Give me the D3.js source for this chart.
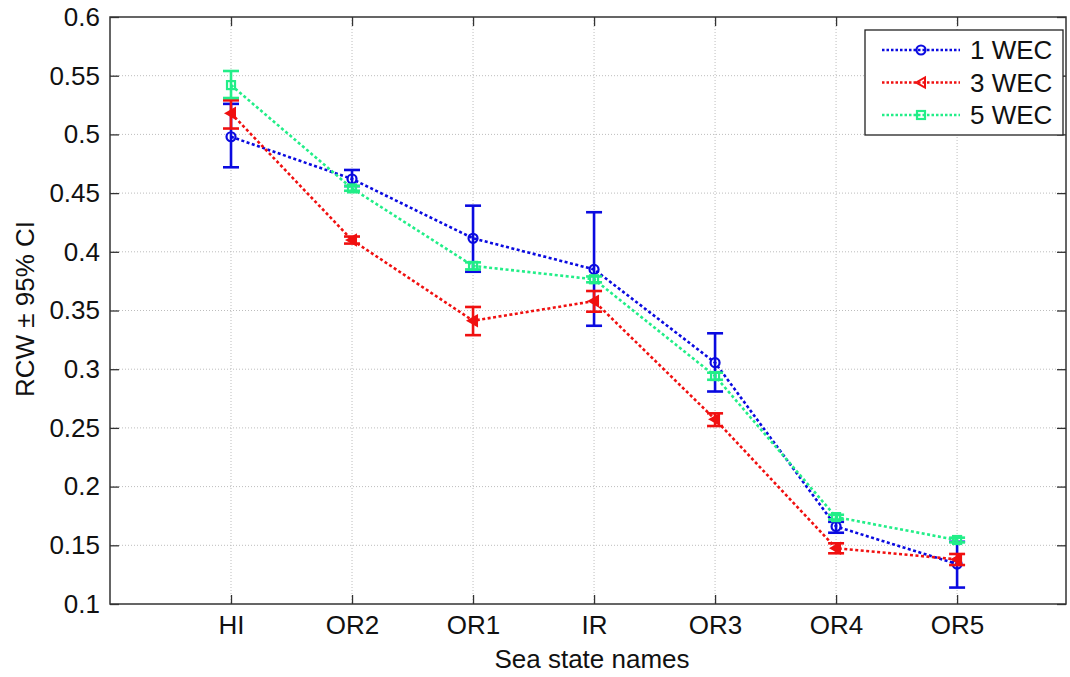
<!DOCTYPE html>
<html><head><meta charset="utf-8">
<script src="https://cdn.jsdelivr.net/npm/d3@7"></script>
<style>body{margin:0;background:#fff}svg{display:block}text{font-family:"Liberation Sans",Arial,sans-serif;fill:#111}</style>
</head><body><svg id="c" width="1070" height="677"></svg>
<script>
const categories = ["HI","OR2","OR1","IR","OR3","OR4","OR5"];
const seriesNames = ["1 WEC","3 WEC","5 WEC"];
const wec1 = [0.498,0.462,0.4115,0.385,0.3056,0.166,0.134];
const wec1Lo = [0.472,0.456,0.383,0.337,0.281,0.1607,0.114];
const wec1Hi = [0.526,0.4697,0.4393,0.4337,0.3306,0.170,0.153];
const wec3 = [0.518,0.410,0.3413,0.358,0.2573,0.1475,0.138];
const wec3Lo = [0.505,0.407,0.329,0.349,0.2516,0.1432,0.1332];
const wec3Hi = [0.529,0.413,0.353,0.3666,0.2624,0.1517,0.1426];
const wec5 = [0.542,0.454,0.388,0.3766,0.2942,0.174,0.1545];
const wec5Lo = [0.531,0.452,0.385,0.374,0.291,0.172,0.1525];
const wec5Hi = [0.554,0.456,0.391,0.379,0.297,0.176,0.1565];
const yTicks = [0.1,0.15,0.2,0.25,0.3,0.35,0.4,0.45,0.5,0.55,0.6];
const xLabel = "Sea state names";
const yLabel = "RCW \u00b1 95% CI";

const colors = ["#0a0ae0","#f01010","#22ee88"];
const markers = ["circle","triangle","square"];
const series = [
  {name:seriesNames[0], v:wec1, lo:wec1Lo, hi:wec1Hi},
  {name:seriesNames[1], v:wec3, lo:wec3Lo, hi:wec3Hi},
  {name:seriesNames[2], v:wec5, lo:wec5Lo, hi:wec5Hi}
];

const FS = "26px";
const L=110,R=1066,T=17,B=604;
const x = d3.scaleLinear().domain([0,7.9]).range([L,R]);
const y = d3.scaleLinear().domain([0.1,0.6]).range([B,T]);
const svg = d3.select("#c");

// grid
const g = svg.append("g");
g.selectAll(".gy").data(yTicks.slice(1,-1)).enter().append("line")
 .attr("x1",L).attr("x2",R).attr("y1",d=>y(d)).attr("y2",d=>y(d))
 .attr("stroke","#bdbdbd").attr("stroke-width",1).attr("stroke-dasharray","1,2");
g.selectAll(".gx").data(categories).enter().append("line")
 .attr("x1",(d,i)=>x(i+1)).attr("x2",(d,i)=>x(i+1)).attr("y1",T).attr("y2",B)
 .attr("stroke","#bdbdbd").attr("stroke-width",1).attr("stroke-dasharray","1,2");

// axes
const yAxis = d3.axisLeft(y).tickValues(yTicks).tickFormat(d=>String(+d.toFixed(2))).tickSizeInner(-9).tickSizeOuter(0).tickPadding(10);
const ya = svg.append("g").attr("transform",`translate(${L},0)`).call(yAxis);
const yr = svg.append("g").attr("transform",`translate(${R},0)`).call(d3.axisRight(y).tickValues(yTicks).tickSizeInner(-9).tickSizeOuter(0).tickFormat(""));
const xAxis = d3.axisBottom(x).tickValues(categories.map((c,i)=>i+1)).tickFormat((d,i)=>categories[i]).tickSizeInner(-9).tickSizeOuter(0).tickPadding(12);
const xa = svg.append("g").attr("transform",`translate(0,${B})`).call(xAxis);
const xt = svg.append("g").attr("transform",`translate(0,${T})`).call(d3.axisTop(x).tickValues(categories.map((c,i)=>i+1)).tickSizeInner(-9).tickSizeOuter(0).tickFormat(""));
[ya,yr,xa,xt].forEach(a=>{a.select(".domain").remove();a.selectAll("line").attr("stroke","#333").attr("stroke-width",1.3);a.attr("font-size",null).attr("font-family",null);});
ya.selectAll("text").style("font-size",FS).style("font-family","Liberation Sans, Arial").attr("fill","#111");
xa.selectAll("text").style("font-size",FS).style("font-family","Liberation Sans, Arial").attr("fill","#111");
svg.append("rect").attr("x",L).attr("y",T).attr("width",R-L).attr("height",B-T).attr("fill","none").attr("stroke","#333").attr("stroke-width",1.5);

svg.append("text").attr("x",592).attr("y",668).attr("text-anchor","middle").style("font-size",FS).text(xLabel);
svg.append("text").attr("transform",`translate(34,309) rotate(-90)`).attr("text-anchor","middle").style("font-size",FS).text(yLabel);

function marker(sel, type, cx, cy, color, fillTri){
  if(type==="circle") sel.append("circle").attr("cx",cx).attr("cy",cy).attr("r",4.5).attr("fill","none").attr("stroke",color).attr("stroke-width",2.2);
  else if(type==="triangle") sel.append("path").attr("d",`M${cx-5},${cy} L${cx+4},${cy-5} L${cx+4},${cy+5} Z`).attr("fill",fillTri?color:"none").attr("stroke",color).attr("stroke-width",2);
  else sel.append("rect").attr("x",cx-4).attr("y",cy-4).attr("width",8).attr("height",8).attr("fill","none").attr("stroke",color).attr("stroke-width",2.2);
}

const line = d3.line().x((d,i)=>x(i+1)).y(d=>y(d));
series.forEach((s,k)=>{
  const c = colors[k];
  const gs = svg.append("g");
  gs.append("path").attr("d",line(s.v)).attr("fill","none").attr("stroke",c).attr("stroke-width",2.6).attr("stroke-dasharray","3,2.5");
  s.v.forEach((v,i)=>{
    const cx=x(i+1);
    gs.append("line").attr("x1",cx).attr("x2",cx).attr("y1",y(s.lo[i])).attr("y2",y(s.hi[i])).attr("stroke",c).attr("stroke-width",2.6);
    [s.lo[i],s.hi[i]].forEach(e=>gs.append("line").attr("x1",cx-8).attr("x2",cx+8).attr("y1",y(e)).attr("y2",y(e)).attr("stroke",c).attr("stroke-width",2.6));
    marker(gs, markers[k], cx, y(v), c, true);
  });
});

// legend
const lg = svg.append("g");
lg.append("rect").attr("x",865).attr("y",30).attr("width",198).attr("height",105).attr("fill","#fff").attr("stroke","#222").attr("stroke-width",1.3);
series.forEach((s,k)=>{
  const ly = 50+k*32.5;
  lg.append("line").attr("x1",882).attr("x2",960).attr("y1",ly).attr("y2",ly).attr("stroke",colors[k]).attr("stroke-width",2.4).attr("stroke-dasharray","2.5,2");
  marker(lg, markers[k], 921, ly, colors[k], false);
  lg.append("text").attr("x",970).attr("y",ly+9).style("font-size",FS).text(s.name);
});
</script></body></html>
